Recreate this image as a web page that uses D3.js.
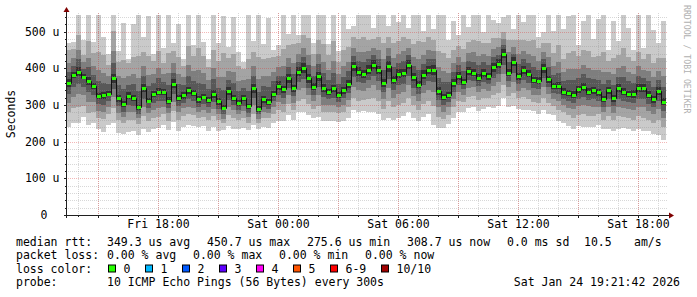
<!DOCTYPE html>
<meta charset="utf-8">
<head>
    <title>Smokeping latency, last 30 hours</title>
    <script type="text/javascript" src="https://cdn.jsdelivr.net/npm/d3@7/dist/d3.min.js"></script>
    <style type="text/css">
        body { margin: 0; background: #ffffff; }
        text { font-family: "DejaVu Sans Mono", monospace; font-size: 11.5px; fill: #000000; }
        .grid line { shape-rendering: crispEdges; }
    </style>
</head>
<body>
<div id="chart"></div>
<script>
    // one sample every 15 minutes, median rtt in microseconds
    var median = [
        360,382,390,377,364,352,324,326,330,372,318,302,325,320,294,345,312,330,336,334,
        312,358,320,326,340,332,315,322,314,330,310,292,338,320,305,318,296,345,290,315,
        308,330,352,342,372,345,390,400,372,350,378,346,335,345,328,340,358,405,390,384,
        396,410,395,360,405,368,385,386,410,375,355,382,395,396,338,322,328,360,380,362,
        392,388,374,388,378,402,412,440,388,418,378,396,385,368,366,400,370,352,352,336,
        332,328,342,350,336,340,334,315,340,318,345,336,330,330,345,345,328,315,338,309
    ];
    // smoke: distance of the sorted pings from the median (outer pair = max/min)
    var up1 = [
        110,90,170,100,190,120,230,160,110,240,130,220,100,200,250,140,230,110,210,120,
        240,110,200,100,230,130,250,150,110,240,160,250,120,220,140,100,250,130,260,150,
        230,120,110,210,120,230,100,150,210,120,190,220,130,230,120,210,150,110,180,200,
        160,100,180,200,110,190,140,200,100,180,220,120,170,110,210,230,150,170,110,190,
        120,170,190,110,180,130,110,100,170,90,190,130,170,200,120,100,200,150,210,170,
        210,230,120,180,220,140,200,240,110,210,130,230,180,120,200,110,220,190,130,220
    ];
    var dn1 = [
        120,130,140,110,120,100,90,100,85,120,95,80,100,90,75,110,85,95,100,90,
        80,105,90,85,95,90,75,80,85,90,80,60,95,85,70,80,65,100,55,75,
        70,80,95,85,100,85,110,120,100,85,110,90,80,90,75,85,95,120,110,100,
        115,130,120,100,140,110,120,115,130,110,100,115,120,150,100,85,80,95,100,80,
        100,95,90,100,85,110,115,120,95,120,90,110,100,85,90,115,95,80,95,85,
        90,95,100,110,95,100,90,80,105,90,110,100,95,100,110,115,100,95,120,105
    ];
    var up2 = [
        90,70,100,60,110,90,120,110,80,130,100,120,90,110,140,100,120,90,110,80,
        130,90,110,80,120,100,140,110,90,120,110,150,90,120,100,80,130,100,140,110,
        120,100,80,110,90,120,80,90,110,90,100,120,100,130,90,110,100,80,90,100,
        80,70,90,110,80,100,90,100,70,90,120,90,90,80,110,120,100,90,80,90,
        80,90,100,80,90,80,70,60,90,60,100,80,90,110,90,70,100,90,110,90,
        110,120,90,100,110,90,100,130,80,110,90,120,100,90,100,80,110,100,90,120
    ];
    var dn2 = [
        80,90,95,80,85,70,60,65,55,80,60,50,65,60,45,75,55,65,70,60,
        55,75,60,55,65,60,50,55,55,60,50,40,65,55,45,55,45,70,40,50,
        45,55,65,60,70,60,80,85,70,60,80,65,55,65,50,60,65,85,80,70,
        80,90,85,70,95,75,85,80,90,75,70,80,85,100,70,60,55,65,70,55,
        70,65,60,70,60,75,80,85,65,85,60,75,70,60,60,80,65,55,65,55,
        60,65,70,75,65,70,60,55,70,60,75,70,65,70,75,80,70,65,80,70
    ];
    var up3 = [
        55,45,60,40,65,55,70,60,50,75,60,70,55,65,80,60,70,55,65,50,
        75,55,65,50,70,60,80,65,55,70,65,85,55,70,60,50,75,60,80,65,
        70,60,50,65,55,70,50,55,65,55,60,70,60,75,55,65,60,50,55,60,
        50,45,55,65,50,60,55,60,45,55,70,55,55,50,65,70,60,55,50,55,
        50,55,60,50,55,50,45,40,55,40,60,50,55,65,55,45,60,55,65,55,
        65,70,55,60,65,55,60,75,50,65,55,70,60,55,60,50,65,60,55,70
    ];
    var dn3 = [
        55,60,60,50,55,45,40,45,35,50,40,35,45,40,30,50,35,45,45,40,
        35,50,40,35,45,40,35,35,35,40,35,30,45,35,30,35,30,45,28,35,
        30,35,45,40,45,40,50,55,45,40,50,45,35,45,35,40,45,55,50,45,
        50,55,55,45,60,50,55,50,55,50,45,50,55,60,45,40,35,45,45,35,
        45,40,40,45,40,50,50,55,40,55,40,50,45,40,40,50,40,35,40,35,
        40,40,45,50,40,45,40,35,45,40,50,45,40,45,50,50,45,40,50,45
    ];
    var up4 = [
        30,25,35,22,38,30,40,35,28,42,35,40,30,36,45,34,40,30,36,28,
        42,30,36,28,40,34,45,36,30,40,36,48,30,40,34,28,42,34,45,36,
        40,34,28,36,30,40,28,30,36,30,34,40,34,42,30,36,34,28,30,34,
        28,25,30,36,28,34,30,34,25,30,40,30,30,28,36,40,34,30,28,30,
        28,30,34,28,30,28,25,22,30,22,34,28,30,36,30,25,34,30,36,30,
        36,40,30,34,36,30,34,42,28,36,30,40,34,30,34,28,36,34,30,40
    ];
    var dn4 = [
        30,34,34,28,30,25,22,25,20,28,22,20,25,22,18,28,20,25,25,22,
        20,28,22,20,25,22,20,20,20,22,20,18,25,20,18,20,18,25,16,20,
        18,20,25,22,25,22,28,30,25,22,28,25,20,25,20,22,25,30,28,25,
        28,30,30,25,34,28,30,28,30,28,25,28,30,34,25,22,20,25,25,20,
        25,22,22,25,22,28,28,30,22,30,22,28,25,22,22,28,22,20,22,20,
        22,22,25,28,22,25,22,20,25,22,28,25,22,25,28,28,25,22,28,25
    ];
    // half gap between the two middle pings
    var core = [
        10,8,12,7,11,9,8,10,7,12,9,8,10,8,7,11,8,9,10,8,
        9,12,8,9,10,8,9,7,8,10,9,7,11,8,9,8,7,12,8,9,
        8,9,12,10,11,10,12,13,11,9,12,10,9,10,8,9,11,13,12,10,
        12,13,12,10,14,11,12,11,13,11,10,12,12,14,10,9,8,10,11,9,
        11,10,10,11,9,12,12,13,10,12,9,11,10,9,9,12,10,8,10,9,
        9,10,10,11,9,10,9,8,10,9,11,10,9,10,11,11,10,9,11,10
    ];

    var yTicks = [0, 100, 200, 300, 400, 500];
    var lossLabels = ["0", "1", "2", "3", "4", "5", "6-9", "10/10"];
    var lossColors = ["#26ff00", "#00b8ff", "#0059ff", "#5e00ff", "#ff00f6", "#ff5500", "#ff0000", "#a00000"];
    var rttStats = ["349.3 us avg", "450.7 us max", "275.6 us min", "308.7 us now", "0.0 ms sd", "10.5", "am/s"];
    var lossStats = ["0.00 % avg", "0.00 % max", "0.00 % min", "0.00 % now"];
    var probeText = "10 ICMP Echo Pings (56 Bytes) every 300s";
    var stamp = "Sat Jan 24 19:21:42 2026";

    var width = 697, height = 297;
    var plot = {left: 66, right: 666, top: 15, bottom: 215};

    var svg = d3.select("#chart").append("svg")
        .attr("width", width)
        .attr("height", height);

    var startTime = new Date(2026, 0, 23, 13, 24);
    var stepMs = 15 * 60 * 1000;
    var endTime = new Date(+startTime + median.length * stepMs);
    function sampleTime(i) { return new Date(+startTime + i * stepMs); }

    var x = d3.scaleTime().domain([startTime, endTime]).range([plot.left, plot.right]);
    var y = d3.scaleLinear().domain([0, 545]).range([plot.bottom, plot.top]);

    svg.append("clipPath").attr("id", "clip")
        .append("rect")
        .attr("x", plot.left + 1).attr("y", plot.top)
        .attr("width", plot.right - plot.left + 1).attr("height", plot.bottom - plot.top);

    // smoke, outer pair first
    var bands = [
        {up: up1, dn: dn1, color: "#cacaca"},
        {up: up2, dn: dn2, color: "#a4a4a4"},
        {up: up3, dn: dn3, color: "#7e7e7e"},
        {up: up4, dn: dn4, color: "#585858"},
        {up: core, dn: core, color: "#323232"}
    ];
    var smoke = svg.append("g").attr("clip-path", "url(#clip)");
    bands.forEach(function(b) {
        smoke.append("g")
            .selectAll("rect")
            .data(median)
            .join("rect")
            .attr("shape-rendering", "crispEdges")
            .attr("fill", b.color)
            .attr("x", function(d, i) { return x(sampleTime(i)); })
            .attr("width", function(d, i) { return x(sampleTime(i + 1)) - x(sampleTime(i)); })
            .attr("y", function(d, i) { return y(d + b.up[i]); })
            .attr("height", function(d, i) { return y(d - b.dn[i]) - y(d + b.up[i]); });
    });

    // grid
    var grid = svg.append("g").attr("class", "grid");
    var minorY = y.ticks(27), majorY = y.ticks(5);
    var minorX = d3.timeHour.every(1).range(startTime, endTime);
    var majorX = d3.timeHour.every(3).range(startTime, endTime);
    var minorColor = "rgba(143,143,143,0.35)", majorColor = "rgba(222,48,48,0.35)";
    grid.selectAll(".hmin").data(minorY.filter(function(v) { return v > 0 && v % 100; }))
        .join("line")
        .attr("x1", plot.left).attr("x2", plot.right + 2)
        .attr("y1", function(d) { return Math.round(y(d)) + 0.5; })
        .attr("y2", function(d) { return Math.round(y(d)) + 0.5; })
        .attr("stroke", minorColor).attr("stroke-dasharray", "1,1");
    grid.selectAll(".vmin").data(minorX)
        .join("line")
        .attr("x1", function(d) { return Math.round(x(d)) + 0.5; })
        .attr("x2", function(d) { return Math.round(x(d)) + 0.5; })
        .attr("y1", plot.top - 2).attr("y2", plot.bottom)
        .attr("stroke", minorColor).attr("stroke-dasharray", "1,1");
    grid.selectAll(".hmaj").data(majorY.filter(function(v) { return v > 0; }))
        .join("line")
        .attr("x1", plot.left).attr("x2", plot.right + 2)
        .attr("y1", function(d) { return Math.round(y(d)) + 0.5; })
        .attr("y2", function(d) { return Math.round(y(d)) + 0.5; })
        .attr("stroke", majorColor).attr("stroke-dasharray", "1,1");
    grid.selectAll(".vmaj").data(majorX)
        .join("line")
        .attr("x1", function(d) { return Math.round(x(d)) + 0.5; })
        .attr("x2", function(d) { return Math.round(x(d)) + 0.5; })
        .attr("y1", plot.top - 2).attr("y2", plot.bottom)
        .attr("stroke", majorColor).attr("stroke-dasharray", "1,1");

    // median line and loss coloured marks
    var stepPoints = median.map(function(d, i) { return [sampleTime(i), d]; });
    stepPoints.push([endTime, median[median.length - 1]]);
    svg.append("path")
        .attr("clip-path", "url(#clip)")
        .attr("d", d3.line()
            .x(function(d) { return Math.round(x(d[0])) + 0.5; })
            .y(function(d) { return Math.round(y(d[1])) + 0.5; })
            .curve(d3.curveStepAfter)(stepPoints))
        .attr("fill", "none")
        .attr("stroke", "#101010")
        .attr("stroke-width", 1);
    svg.append("g")
        .selectAll("rect")
        .data(median)
        .join("rect")
        .attr("shape-rendering", "crispEdges")
        .attr("fill", lossColors[0])
        .attr("x", function(d, i) { return x(sampleTime(i)) + 0.5; })
        .attr("width", 4)
        .attr("y", function(d) { return Math.round(y(d)) - 1; })
        .attr("height", 3);

    // axes
    var axisColor = "#202020";
    var xAxis = svg.append("g")
        .attr("transform", "translate(0," + plot.bottom + ")")
        .call(d3.axisBottom(x)
            .tickValues(d3.timeHour.every(6).range(startTime, endTime))
            .tickFormat(d3.timeFormat("%a %H:%M"))
            .tickSize(0)
            .tickPadding(5));
    xAxis.select(".domain").remove();
    var yAxis = svg.append("g")
        .attr("transform", "translate(" + (plot.left + 0.5) + ",0)")
        .call(d3.axisLeft(y)
            .tickValues(yTicks)
            .tickFormat(function(d) { return d ? d + " u" : "0"; })
            .tickSize(0)
            .tickPadding(7));
    yAxis.select(".domain").remove();
    yAxis.selectAll(".tick text").filter(function(d) { return d === 0; }).attr("x", -19);

    // small ticks on the axes
    svg.append("g").selectAll("line").data(minorX)
        .join("line")
        .attr("x1", function(d) { return Math.round(x(d)) + 0.5; })
        .attr("x2", function(d) { return Math.round(x(d)) + 0.5; })
        .attr("y1", plot.bottom).attr("y2", function(d) { return plot.bottom + (d.getHours() % 3 ? 2 : 3); })
        .attr("stroke", axisColor);
    svg.append("g").selectAll("line").data(minorY)
        .join("line")
        .attr("x1", function(d) { return d % 100 ? plot.left - 1 : plot.left - 2; })
        .attr("x2", plot.left)
        .attr("y1", function(d) { return Math.round(y(d)) + 0.5; })
        .attr("y2", function(d) { return Math.round(y(d)) + 0.5; })
        .attr("stroke", axisColor);

    svg.append("line")
        .attr("x1", plot.left - 2).attr("x2", plot.right + 3)
        .attr("y1", plot.bottom + 0.5).attr("y2", plot.bottom + 0.5)
        .attr("stroke", axisColor);
    svg.append("line")
        .attr("x1", plot.left + 0.5).attr("x2", plot.left + 0.5)
        .attr("y1", plot.bottom + 3).attr("y2", plot.top - 3)
        .attr("stroke", axisColor);
    svg.append("path")
        .attr("d", "M" + (plot.right + 3) + "," + (plot.bottom - 2.5) + "L" + (plot.right + 8) + "," + (plot.bottom + 0.5) + "L" + (plot.right + 3) + "," + (plot.bottom + 3.5) + "Z")
        .attr("fill", "#7f0000");
    svg.append("path")
        .attr("d", "M" + (plot.left - 2.5) + "," + (plot.top - 3) + "L" + (plot.left + 0.5) + "," + (plot.top - 8) + "L" + (plot.left + 3.5) + "," + (plot.top - 3) + "Z")
        .attr("fill", "#7f0000");

    svg.append("text")
        .attr("transform", "translate(15,114) rotate(-90)")
        .attr("text-anchor", "middle")
        .text("Seconds");

    svg.append("text")
        .attr("transform", "translate(683.5,5) rotate(90)")
        .style("font-size", "8.2px")
        .style("fill", "#b0b0b0")
        .text("RRDTOOL / TOBI OETIKER");

    // legend
    var rowY = [245.5, 259, 272.5, 286];
    var legend = svg.append("g");
    legend.append("text").attr("x", 16).attr("y", rowY[0]).text("median rtt:");
    var rttX = [107, 207, 307, 407, 507, 584, 634];
    rttStats.forEach(function(s, i) {
        legend.append("text").attr("x", rttX[i]).attr("y", rowY[0]).text(s);
    });
    legend.append("text").attr("x", 16).attr("y", rowY[1]).text("packet loss:");
    lossStats.forEach(function(s, i) {
        legend.append("text").attr("x", 107 + 86 * i).attr("y", rowY[1]).text(s);
    });
    legend.append("text").attr("x", 16).attr("y", rowY[2]).text("loss color:");
    var boxX = [108, 145, 182, 219, 256, 293, 330, 381];
    lossLabels.forEach(function(s, i) {
        legend.append("rect")
            .attr("x", boxX[i] + 0.5).attr("y", rowY[2] - 7.5)
            .attr("width", 7).attr("height", 7)
            .attr("fill", lossColors[i])
            .attr("stroke", "#000000");
        legend.append("text").attr("x", boxX[i] + 15.5).attr("y", rowY[2]).text(s);
    });
    legend.append("text").attr("x", 16).attr("y", rowY[3]).text("probe:");
    legend.append("text").attr("x", 107).attr("y", rowY[3]).text(probeText);
    legend.append("text").attr("x", 680).attr("y", rowY[3]).attr("text-anchor", "end").text(stamp);
</script>
</body>
</html>
